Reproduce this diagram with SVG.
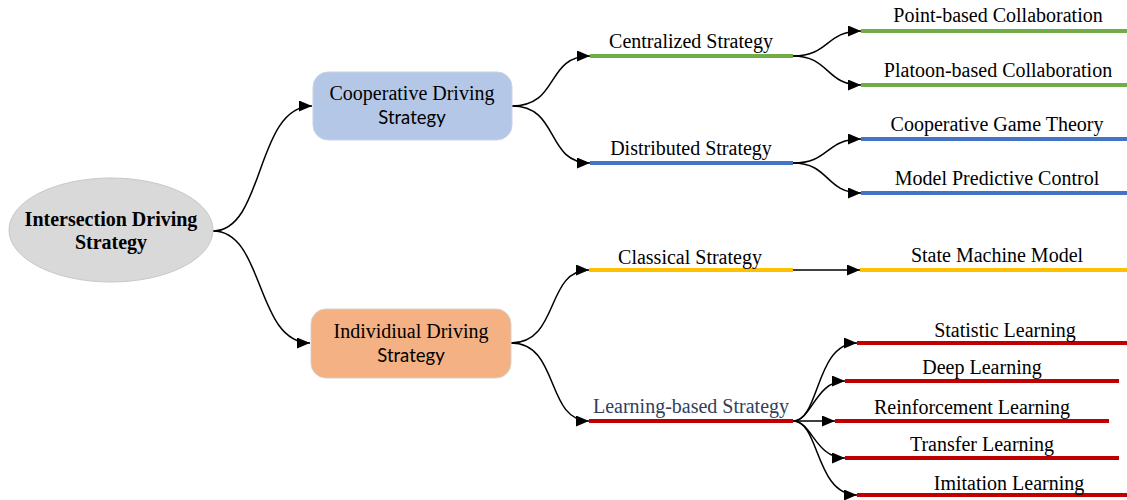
<svg xmlns="http://www.w3.org/2000/svg" width="1127" height="500" viewBox="0 0 1127 500">
<style>
.t{font-family:"Liberation Serif","Times New Roman",serif;font-size:20px;fill:#000;text-anchor:middle}
.s{font-family:Lato,"Liberation Sans",sans-serif;font-size:18.5px;fill:#000;text-anchor:middle}
.b{font-family:"Liberation Serif","Times New Roman",serif;font-size:20px;font-weight:bold;fill:#000;text-anchor:middle}
.c{fill:none;stroke:#000;stroke-width:1.5}
.g{stroke:#70ad47;stroke-width:4}
.bl{stroke:#4472c4;stroke-width:4}
.y{stroke:#ffc000;stroke-width:4}
.r{stroke:#c00000;stroke-width:4}
</style>
<defs>
<marker id="ah" viewBox="0 0 13 11" refX="13" refY="5.5" markerWidth="13" markerHeight="11" markerUnits="userSpaceOnUse" orient="auto">
<path d="M0,0 L13,5.5 L0,11 z" fill="#000"/>
</marker>
</defs>
<g id="connectors">
<path class="c" marker-end="url(#ah)" d="M213,231 C265,231 255,106 312,106"/>
<path class="c" marker-end="url(#ah)" d="M213,231 C265,231 255,343 310,343"/>
<path class="c" marker-end="url(#ah)" d="M512,106 C560,106 545,56 590,56"/>
<path class="c" marker-end="url(#ah)" d="M512,106 C560,106 545,163 590,163"/>
<path class="c" marker-end="url(#ah)" d="M511,343 C560,343 545,270 589,270"/>
<path class="c" marker-end="url(#ah)" d="M511,343 C560,343 545,421 589,421"/>
<path class="c" marker-end="url(#ah)" d="M793,56 C830,56 825,31 861,31"/>
<path class="c" marker-end="url(#ah)" d="M793,56 C830,56 825,85 861,85"/>
<path class="c" marker-end="url(#ah)" d="M793,163 C830,163 825,139 861,139"/>
<path class="c" marker-end="url(#ah)" d="M793,163 C830,163 825,193 861,193"/>
<path class="c" marker-end="url(#ah)" d="M793,270 L860,270"/>
<path class="c" marker-end="url(#ah)" d="M793,421 C820,421 815,343 857,343"/>
<path class="c" marker-end="url(#ah)" d="M793,421 C812,421 815,381 845,381"/>
<path class="c" marker-end="url(#ah)" d="M793,421 L835,421"/>
<path class="c" marker-end="url(#ah)" d="M793,421 C812,421 815,458 845,458"/>
<path class="c" marker-end="url(#ah)" d="M793,421 C820,421 815,495 857,495"/>
</g>
<g id="root">
<ellipse cx="111" cy="230" rx="102" ry="52" fill="#d9d9d9" stroke="#c8c8c8" stroke-width="1"/>
<text class="b" x="111" y="226">Intersection Driving</text>
<text class="b" x="111" y="249">Strategy</text>
</g>
<g id="cooperative">
<rect x="313" y="72" width="199" height="68" rx="15" fill="#b4c7e7" stroke="#c9d3e3" stroke-width="1"/>
<text class="t" x="412" y="100">Cooperative Driving</text>
<text class="s" x="412" y="124">Strategy</text>
</g>
<g id="individual">
<rect x="311" y="309" width="200" height="69" rx="15" fill="#f4b183" stroke="#d9cfc6" stroke-width="1"/>
<text class="t" x="411" y="338">Individiual Driving</text>
<text class="s" x="411" y="362">Strategy</text>
</g>
<g id="centralized">
<line class="g" x1="590" y1="56" x2="793" y2="56"/>
<text class="t" x="691" y="48">Centralized Strategy</text>
</g>
<g id="distributed">
<line class="bl" x1="590" y1="163" x2="793" y2="163"/>
<text class="t" x="691" y="155">Distributed Strategy</text>
</g>
<g id="classical">
<line class="y" x1="589" y1="270" x2="793" y2="270"/>
<text class="t" x="690" y="264">Classical Strategy</text>
</g>
<g id="learning">
<line class="r" x1="589" y1="421" x2="793" y2="421"/>
<text class="t" x="691" y="413" style="fill:#323e5c">Learning-based Strategy</text>
</g>
<g id="point">
<line class="g" x1="861" y1="31" x2="1127" y2="31"/>
<text class="t" x="998" y="22">Point-based Collaboration</text>
</g>
<g id="platoon">
<line class="g" x1="861" y1="85" x2="1127" y2="85"/>
<text class="t" x="998" y="77">Platoon-based Collaboration</text>
</g>
<g id="game">
<line class="bl" x1="861" y1="139" x2="1127" y2="139"/>
<text class="t" x="997" y="131">Cooperative Game Theory</text>
</g>
<g id="mpc">
<line class="bl" x1="861" y1="193" x2="1127" y2="193"/>
<text class="t" x="997" y="185">Model Predictive Control</text>
</g>
<g id="statemachine">
<line class="y" x1="860" y1="270" x2="1127" y2="270"/>
<text class="t" x="997" y="262">State Machine Model</text>
</g>
<g id="statistic">
<line class="r" x1="857" y1="343" x2="1127" y2="343"/>
<text class="t" x="1005" y="337">Statistic Learning</text>
</g>
<g id="deep">
<line class="r" x1="845" y1="381" x2="1119" y2="381"/>
<text class="t" x="982" y="374">Deep Learning</text>
</g>
<g id="reinforcement">
<line class="r" x1="835" y1="421" x2="1109" y2="421"/>
<text class="t" x="972" y="414">Reinforcement Learning</text>
</g>
<g id="transfer">
<line class="r" x1="845" y1="458" x2="1119" y2="458"/>
<text class="t" x="982" y="451">Transfer Learning</text>
</g>
<g id="imitation">
<line class="r" x1="857" y1="495" x2="1127" y2="495"/>
<text class="t" x="1009" y="490">Imitation Learning</text>
</g>
</svg>
